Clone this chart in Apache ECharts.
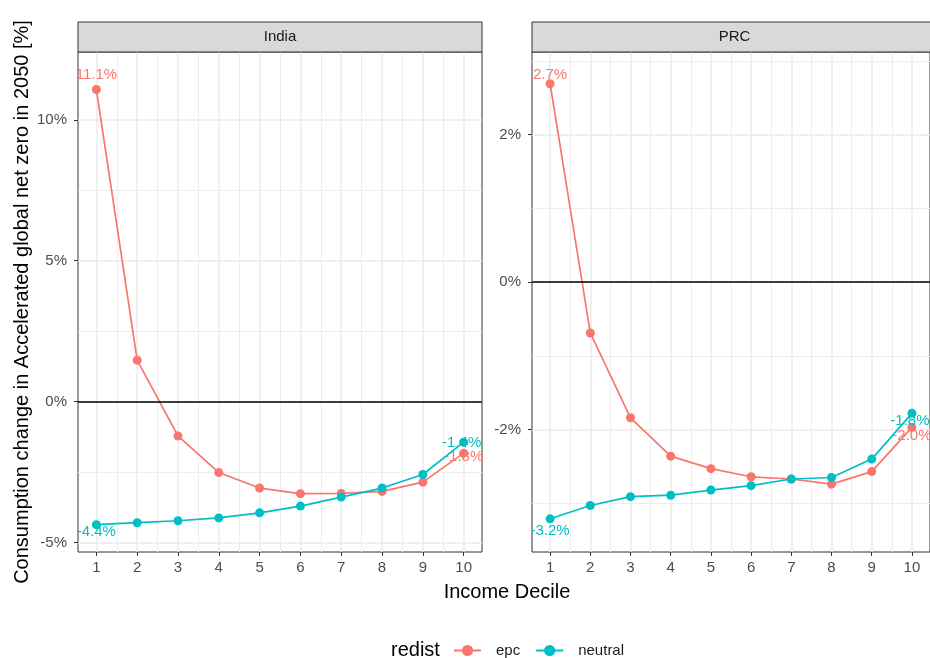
<!DOCTYPE html>
<html>
<head>
<meta charset="utf-8">
<script src="https://cdn.jsdelivr.net/npm/echarts@6/dist/echarts.min.js"></script>
<style>
html,body{margin:0;padding:0;background:#fff;}
#chart{width:930px;height:658px;}
</style>
</head>
<body>
<div id="chart"></div>
<script>
// ---- data ----
const deciles = [1, 2, 3, 4, 5, 6, 7, 8, 9, 10];
const seriesNames = ['epc', 'neutral'];
const panels = ['India', 'PRC'];
const indiaEpc = [11.08, 1.47, -1.22, -2.52, -3.07, -3.27, -3.26, -3.19, -2.86, -1.83];
const indiaNeutral = [-4.37, -4.30, -4.23, -4.13, -3.95, -3.71, -3.39, -3.07, -2.59, -1.44];
const prcEpc = [2.69, -0.69, -1.84, -2.36, -2.53, -2.64, -2.67, -2.74, -2.57, -1.97];
const prcNeutral = [-3.21, -3.03, -2.91, -2.89, -2.82, -2.76, -2.67, -2.65, -2.40, -1.78];
const xTicks = [1, 2, 3, 4, 5, 6, 7, 8, 9, 10];
const xMinorTicks = [1.5, 2.5, 3.5, 4.5, 5.5, 6.5, 7.5, 8.5, 9.5];
const indiaYTicks = [-5, 0, 5, 10];
const indiaYMinorTicks = [-2.5, 2.5, 7.5];
const prcYTicks = [-2, 0, 2];
const prcYMinorTicks = [-3, -1, 1, 3];
const indiaYRange = [-5.34, 12.41];
const prcYRange = [-3.66, 3.12];
const xRange = [0.55, 10.45];
const xTitle = 'Income Decile';
const yTitle = 'Consumption change in Accelerated global net zero in 2050 [%]';
const legendTitle = 'redist';

// ---- styling ----
const FONT = "'Liberation Sans', Arial, sans-serif";
const colors = {epc: '#F8766D', neutral: '#00BFC4'};
const gridDefs = [
  {left: 78, top: 52, width: 404, height: 500},
  {left: 532, top: 52, width: 405, height: 500}
];
// label offsets for first / last points [panel][series]
const labelOffsets = {
  India: {epc: [[0, -15], [0, 4]], neutral: [[0, 7], [-2, 1]]},
  PRC: {epc: [[0, -9], [0, 8]], neutral: [[0, 12], [-2, 8]]}
};

const chart = echarts.init(document.getElementById('chart'), null, {renderer: 'canvas'});

const xAxes = [], yAxes = [], grids = [];
const yTicksByPanel = {India: [indiaYTicks, indiaYMinorTicks, indiaYRange], PRC: [prcYTicks, prcYMinorTicks, prcYRange]};
const majorGrid = {color: '#EBEBEB', width: 1.5};
const minorGrid = {color: '#EDEDED', width: 1};

panels.forEach((p, i) => {
  const g = gridDefs[i];
  grids.push({left: g.left, top: g.top, width: g.width, height: g.height, show: true,
    borderColor: '#333333', borderWidth: 1, backgroundColor: '#ffffff', containLabel: false});
  // major x
  xAxes.push({gridIndex: i, type: 'value', min: xRange[0], max: xRange[1], position: 'bottom',
    axisLine: {show: false, onZero: false},
    axisTick: {show: true, length: 4, lineStyle: {color: '#333333'}, customValues: xTicks},
    axisLabel: {show: true, customValues: xTicks, color: '#4D4D4D', fontSize: 15, fontFamily: FONT, margin: 8},
    splitLine: {show: true, lineStyle: majorGrid}
  });
  // minor x
  xAxes.push({gridIndex: i, type: 'value', min: xRange[0], max: xRange[1], position: 'bottom',
    axisLine: {show: false, onZero: false},
    axisTick: {show: false, customValues: xMinorTicks},
    axisLabel: {show: false, customValues: xMinorTicks},
    splitLine: {show: true, lineStyle: minorGrid}
  });
  const [yt, ym, yr] = yTicksByPanel[p];
  yAxes.push({gridIndex: i, type: 'value', min: yr[0], max: yr[1], position: 'left',
    axisLine: {show: false, onZero: false},
    axisTick: {show: true, length: 4, lineStyle: {color: '#333333'}, customValues: yt},
    axisLabel: {show: true, customValues: yt, color: '#4D4D4D', fontSize: 15, fontFamily: FONT, margin: 11,
      formatter: v => v + '%'},
    splitLine: {show: true, lineStyle: majorGrid}
  });
  yAxes.push({gridIndex: i, type: 'value', min: yr[0], max: yr[1], position: 'left',
    axisLine: {show: false, onZero: false},
    axisTick: {show: false, customValues: ym},
    axisLabel: {show: false, customValues: ym},
    splitLine: {show: true, lineStyle: minorGrid}
  });
});

const panelData = {India: {epc: indiaEpc, neutral: indiaNeutral}, PRC: {epc: prcEpc, neutral: prcNeutral}};

const series = [];
panels.forEach((p, i) => {
  seriesNames.forEach((s, k) => {
    const vals = panelData[p][s];
    const offs = labelOffsets[p][s];
    const data = deciles.map((d, j) => {
      const item = {value: [d, vals[j]]};
      if (j === 0 || j === deciles.length - 1) {
        item.label = {show: true, position: 'inside', offset: j === 0 ? offs[0] : offs[1],
          formatter: vals[j].toFixed(1) + '%', color: colors[s], fontSize: 15, fontFamily: FONT};
      }
      return item;
    });
    const ser = {
      name: s, type: 'line', xAxisIndex: i * 2, yAxisIndex: i * 2,
      data: data, symbol: 'circle', symbolSize: 9, showSymbol: true,
      itemStyle: {color: colors[s]},
      lineStyle: {color: colors[s], width: 1.7},
      label: {show: false},
      emphasis: {disabled: true},
      animation: false, z: 3 + k
    };
    if (k === 0) {
      ser.markLine = {silent: true, symbol: ['none', 'none'], label: {show: false},
        lineStyle: {color: '#000000', width: 1.6, type: 'solid'},
        data: [{yAxis: 0}], animation: false};
    }
    series.push(ser);
  });
});

const graphics = [];
panels.forEach((p, i) => {
  const g = gridDefs[i];
  graphics.push({type: 'rect', z: 10, shape: {x: g.left, y: 22, width: g.width, height: 30},
    style: {fill: '#D9D9D9', stroke: '#333333', lineWidth: 1}});
  graphics.push({type: 'text', z: 11, x: g.left + g.width / 2, y: 37,
    style: {text: p, fill: '#1A1A1A', font: '15px ' + FONT, align: 'center', verticalAlign: 'middle'}});
});
graphics.push({type: 'text', z: 11, x: 507, y: 592,
  style: {text: xTitle, fill: '#000000', font: '20px ' + FONT, align: 'center', verticalAlign: 'middle'}});
graphics.push({type: 'text', z: 11, x: 22, y: 302, rotation: Math.PI / 2,
  style: {text: yTitle, fill: '#000000', font: '20px ' + FONT, align: 'center', verticalAlign: 'middle'}});
graphics.push({type: 'text', z: 11, x: 391, y: 650,
  style: {text: legendTitle, fill: '#000000', font: '20px ' + FONT, align: 'left', verticalAlign: 'middle'}});

chart.setOption({
  animation: false,
  backgroundColor: '#ffffff',
  grid: grids,
  xAxis: xAxes,
  yAxis: yAxes,
  series: series,
  legend: {
    data: seriesNames, left: 453, top: 643, padding: 0, itemWidth: 27, itemHeight: 14, itemGap: 15,
    textStyle: {color: '#1A1A1A', fontSize: 15, fontFamily: FONT, padding: [0, 0, 0, 10]},
    selectedMode: false
  },
  graphic: graphics
});
</script>
</body>
</html>
